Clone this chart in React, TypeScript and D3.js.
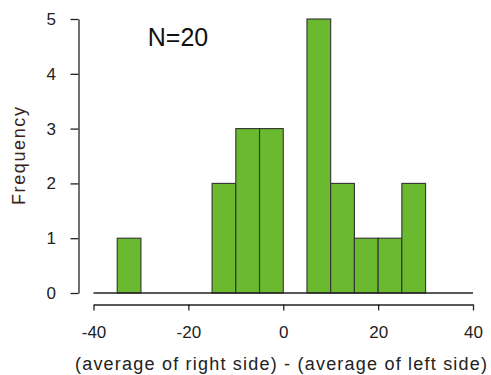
import * as d3 from "d3";
import { useEffect, useRef } from "react";

// histogram bins (left edges, width 5) and counts
const binStarts = [-35, -30, -25, -20, -15, -10, -5, 0, 5, 10, 15, 20, 25];
const binWidth = 5;
const counts = [1, 0, 0, 0, 2, 3, 3, 0, 5, 2, 1, 1, 2];
const xTicks = [-40, -20, 0, 20, 40];
const yTicks = [0, 1, 2, 3, 4, 5];

const width = 491;
const height = 375;
const font = "Arial, 'Liberation Sans', sans-serif";
const barFill = "#6ab92e";

const App = () => {
  const gx = useRef<SVGGElement>(null);
  const gy = useRef<SVGGElement>(null);

  const x = d3.scaleLinear().domain([-40, 40]).range([93.5, 473]);
  const y = d3.scaleLinear().domain([0, 5]).range([293, 19]);

  useEffect(() => {
    d3.select(gx.current)
      .call(
        d3
          .axisBottom(x)
          .tickValues(xTicks)
          .tickFormat((d) => String(d)) // plain hyphen, like R
          .tickSize(6)
          .tickSizeOuter(0)
          .tickPadding(15)
      )
      .call((g) => g.selectAll("path,line").attr("stroke", "#222").attr("stroke-width", 1.3))
      .call((g) =>
        g.selectAll("text").attr("font-size", 17).attr("font-family", font).attr("fill", "#222")
      );
  }, []);

  useEffect(() => {
    d3.select(gy.current)
      .call(
        d3
          .axisLeft(y)
          .tickValues(yTicks)
          .tickFormat((d) => String(d))
          .tickSize(8)
          .tickSizeOuter(0)
          .tickPadding(14.5)
      )
      .call((g) => g.selectAll("path,line").attr("stroke", "#222").attr("stroke-width", 1.3))
      .call((g) =>
        g.selectAll("text").attr("font-size", 17).attr("font-family", font).attr("fill", "#222")
      );
  }, []);

  return (
    <svg
      width={width}
      height={height}
      viewBox={`0 0 ${width} ${height}`}
      style={{ position: "absolute", left: 0, top: 0, background: "#fff" }}
    >
      <g stroke="#333" strokeWidth={1.1} fill={barFill}>
        {binStarts.map((b, i) =>
          counts[i] > 0 ? (
            <rect
              key={i}
              x={x(b)}
              width={x(b + binWidth) - x(b)}
              y={y(counts[i])}
              height={y(0) - y(counts[i])}
            />
          ) : null
        )}
      </g>
      <line x1={x(-40)} x2={x(40)} y1={y(0)} y2={y(0)} stroke="#222" strokeWidth={1.3} />
      <g ref={gx} transform="translate(0,304.5)" />
      <g ref={gy} transform="translate(78.5,0)" />
      <text x={178} y={45.5} textAnchor="middle" fontSize={25} fontFamily={font} fill="#111">
        N=20
      </text>
      <text
        x={281}
        y={370}
        textAnchor="middle"
        fontSize={18}
        fontFamily={font}
        fill="#222"
        textLength={412}
        lengthAdjust="spacing"
      >
        (average of right side) - (average of left side)
      </text>
      <text
        transform="translate(25,156) rotate(-90)"
        textAnchor="middle"
        fontSize={18}
        fontFamily={font}
        fill="#3a2218"
        textLength={98}
        lengthAdjust="spacing"
      >
        Frequency
      </text>
    </svg>
  );
};

export default App;
